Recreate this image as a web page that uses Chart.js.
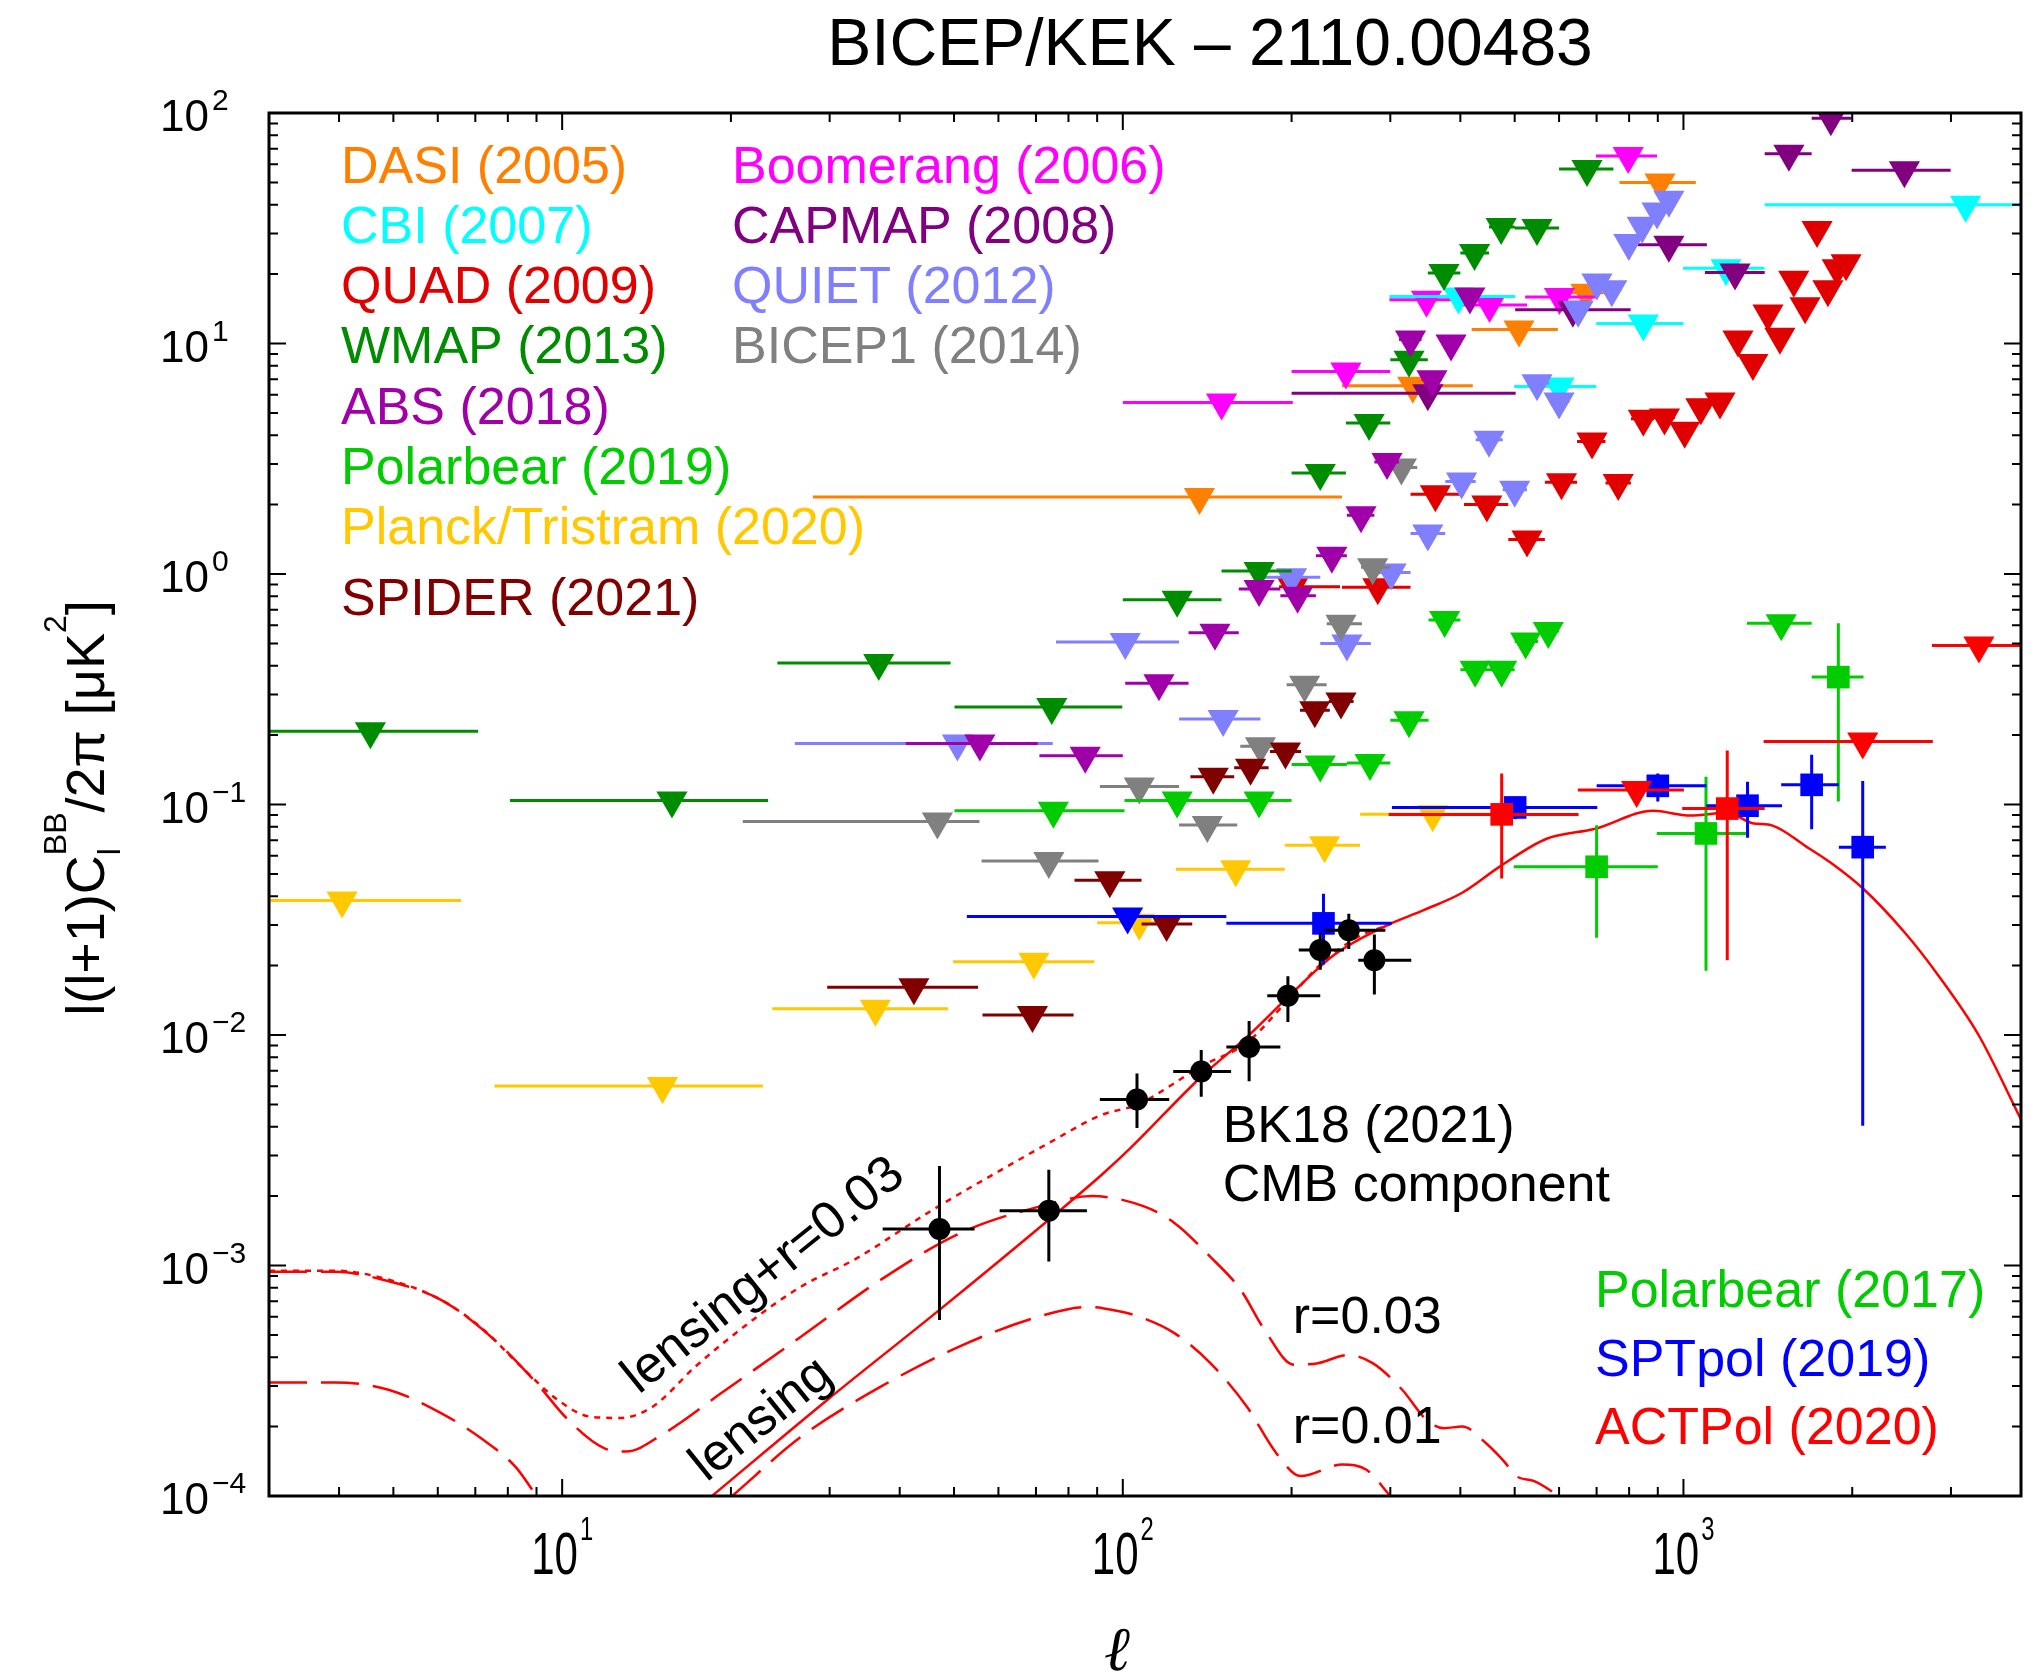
<!DOCTYPE html>
<html>
<head>
<meta charset="utf-8">
<title>BB power spectrum</title>
<script src="https://cdn.jsdelivr.net/npm/chart.js@4.4.1/dist/chart.umd.min.js"></script>
<style>
  html, body { margin: 0; padding: 0; background: #ffffff; }
  canvas { display: block; }
</style>
</head>
<body>
<canvas id="bbChart" width="2040" height="1677" style="width:2040px;height:1677px"></canvas>
<script>
// axis ranges
const ellRange = [3, 4000];
const powerRange = [1e-4, 100];
const xDecades = [1, 2, 3];
const yDecades = [-4, -3, -2, -1, 0, 1, 2];

// upper limits: [l min, l, l max, 95% limit]
const dasi = [[28, 137, 246, 2.16], [246, 329, 421, 6.55], [419, 509, 597, 11.5], [597, 670, 755, 16.6], [769, 908, 1052, 50.0]];
const boomerang = [[100, 150, 201, 5.55], [200, 250, 300, 7.56], [299, 348, 391, 15.5], [391, 451, 526, 14.7], [522, 601, 699, 15.9], [698, 797, 897, 65.1]];
const cbi = [[299, 397, 501, 16.0], [499, 600, 699, 6.50], [699, 848, 1000, 12.2], [998, 1191, 1395, 21.2], [1396, 3186, 7000, 40.0]];
const capmap = [[200, 350, 502, 6.09], [501, 635, 805, 14.0], [829, 942, 1101, 26.8], [1092, 1236, 1396, 20.3], [1396, 1542, 1693, 66.5], [1693, 1832, 1995, 95], [1995, 2478, 2996, 56.4]];
const quad = [[190, 201, 244, 0.88], [246, 285, 326, 0.876], [326, 361, 406, 2.22], [406, 446, 487, 2.0], [487, 526, 566, 1.41],
  [566, 606, 646, 2.50], [646, 687, 726, 3.76], [726, 765, 806, 2.48], [806, 848, 886, 4.72], [886, 925, 966, 4.78],
  [966, 1005, 1040, 4.18], [1040, 1074, 1118, 5.29], [1118, 1162, 1206, 5.60], [1206, 1251, 1290, 10.4], [1290, 1330, 1372, 8.22],
  [1372, 1415, 1450, 13.5], [1450, 1486, 1530, 10.7], [1530, 1573, 1610, 18.9], [1610, 1648, 1690, 14.5], [1690, 1731, 1770, 31.1],
  [1770, 1810, 1845, 17.2], [1845, 1880, 1915, 21.2], [1915, 1950, 1990, 22.3]];
const quiet = [[26, 50.7, 75, 0.184], [76, 101, 126, 0.507], [126, 151, 176, 0.235], [178, 200, 225, 0.969], [225, 251, 277, 0.50],
  [276, 301, 326, 1.015], [326, 350, 376, 1.50], [376, 402, 426, 2.52], [426, 450, 476, 3.82], [476, 500, 526, 2.32],
  [526, 548, 576, 6.73], [576, 600, 626, 5.60], [626, 649, 676, 14.0], [676, 701, 726, 18.4], [726, 745, 776, 17.2],
  [776, 799, 826, 27.3], [826, 844, 876, 32.4], [876, 897, 926, 37.4], [926, 942, 976, 42.0]];
const wmap = [[2, 4.55, 7.08, 0.208], [8.07, 15.7, 23.3, 0.104], [24.2, 36.7, 49.3, 0.411], [50.1, 74.7, 99.8, 0.265],
  [100, 125, 150, 0.774], [150, 175, 200, 1.03], [200, 225, 250, 2.74], [250, 275, 300, 4.52], [300, 324, 350, 8.50],
  [350, 374, 400, 20.2], [400, 424, 450, 24.7], [450, 473, 500, 32.0], [500, 548, 600, 31.7], [600, 673, 750, 57.1]];
const bicep1 = [[21, 46.7, 55.5, 0.0843], [56, 73.8, 90.5, 0.0568], [91, 107, 126, 0.1197], [126, 141.5, 160, 0.0815],
  [162, 176, 190, 0.179], [196, 211, 231, 0.331], [231, 245, 267, 0.609], [266, 279, 300, 1.07], [301, 314, 335, 2.90]];
const abs = [[41, 55.6, 70.5, 0.184], [71, 85.7, 100, 0.1626], [101, 116, 131, 0.336], [131, 146, 161, 0.556], [161, 175, 191, 0.86],
  [191, 205, 221, 0.805], [221, 236, 251, 1.20], [251, 266, 281, 1.80], [281, 296, 311, 3.06], [311, 326, 341, 10.4],
  [341, 356, 371, 7.0], [371, 385, 401, 10.0], [401, 416, 431, 16.0]];
const polarbear19 = [[50.1, 75.2, 100.7, 0.094], [100.7, 125, 151, 0.1042], [151, 175, 200, 0.1042], [200, 225, 251, 0.149],
  [251, 276, 300, 0.1514], [300, 324, 351, 0.232], [351, 375, 400, 0.632], [400, 425, 450, 0.384], [450, 474, 500, 0.384],
  [500, 523, 550, 0.51], [550, 574, 600, 0.566]];
const planck = [[2, 4.05, 6.6, 0.0383], [7.57, 15.1, 22.8, 0.00601], [23.7, 36.2, 48.8, 0.0130], [49.8, 69.4, 89, 0.0208],
  [90, 107, 124, 0.0307], [124.4, 159, 194.5, 0.0524], [194.5, 229, 265, 0.0665], [265, 357, 475, 0.0907]];
const spider = [[29.7, 42.4, 55.2, 0.0161], [56.2, 69, 81.7, 0.0122], [82, 94.8, 108, 0.0469], [108, 119.7, 133, 0.0303],
  [132, 145, 158, 0.1318], [158, 169, 182, 0.1445], [183, 195, 208, 0.170], [207, 220, 234, 0.2565], [233, 245, 258, 0.280]];
const polarbear17Limits = [[1298, 1494, 1693, 0.611]];
const sptpolLimits = [[52.7, 102, 153, 0.0327]];
const actpolLimits = [[648, 825, 1002, 0.1156], [1390, 2088, 2785, 0.1875], [2775, 3365, 4000, 0.489]];

// detections: [l min, l, l max, band power, lower, upper]
const polarbear17 = [[498, 700, 900, 0.0537, 0.0264, 0.0813], [896, 1097, 1301, 0.0749, 0.0190, 0.1318], [1693, 1889, 2095, 0.357, 0.103, 0.611]];
const sptpol = [[153, 228, 302, 0.0305, 0.0202, 0.0410], [302, 501, 702, 0.0971, 0.0863, 0.1065], [700, 900, 1099, 0.1205, 0.103, 0.1364],
  [1099, 1301, 1499, 0.0988, 0.0718, 0.1256], [1494, 1693, 1893, 0.1217, 0.078, 0.1644], [1893, 2088, 2296, 0.0653, 0.00404, 0.1266]];
const actpol = [[298, 474, 650, 0.0906, 0.0478, 0.1364], [995, 1197, 1396, 0.096, 0.0211, 0.1714]];
const bk18 = [[37.3, 47.1, 54.4, 0.00144, 0.00058, 0.0027], [60.3, 73.8, 86.3, 0.00173, 0.00104, 0.0026],
  [91, 106, 121, 0.00525, 0.00395, 0.0068], [123, 138, 156, 0.00694, 0.0054, 0.0086], [153, 168, 191, 0.00887, 0.0063, 0.0115],
  [181, 197, 225, 0.0148, 0.0114, 0.018], [206, 225, 248, 0.0234, 0.0192, 0.0277], [229, 253, 294, 0.0285, 0.0236, 0.0336],
  [263, 281, 327, 0.0211, 0.0150, 0.0273]];

// model spectra
const lensEll = [18.5, 29.7, 47.1, 73.8, 91.6, 102.5, 138, 168, 201, 239, 294, 344, 403, 471, 570, 697, 883, 1028, 1197, 1327, 1442, 1651, 1829, 2095, 2479, 2840, 3360, 4000];
const lensVal = [1.0e-4, 2.61e-4, 6.42e-4, 1.58e-3, 2.47e-3, 3.18e-3, 6.59e-3, 0.0100, 0.0153, 0.0224, 0.0297, 0.0348, 0.0414, 0.0539, 0.071, 0.0785, 0.094, 0.0895, 0.092, 0.083, 0.081, 0.066, 0.056, 0.043, 0.0279, 0.0183, 0.0100, 0.0043];
const lensR03Ell = [3, 3.94, 4.79, 6.08, 7.24, 8.44, 9.82, 11.2, 12.7, 14.5, 17.3, 21.5, 26.7, 33.2, 45.9, 63.7, 73.8, 91.6, 106, 138, 167, 197, 225, 263, 300];
const lensR03Val = [9.5e-4, 9.5e-4, 8.81e-4, 7.10e-4, 5.26e-4, 3.65e-4, 2.61e-4, 2.21e-4, 2.18e-4, 2.44e-4, 3.65e-4, 5.62e-4, 8.11e-4, 1.06e-3, 1.75e-3, 2.78e-3, 3.4e-3, 4.5e-3, 4.98e-3, 7.31e-3, 9.33e-3, 0.0142, 0.0202, 0.0267, 0.0302];
const r03Ell = [3, 3.94, 4.79, 6.08, 7.57, 9.0, 10.25, 11.9, 13.0, 15.2, 19.2, 26.7, 37.0, 51.2, 70.9, 88, 109.4, 123.6, 143.3, 162.2, 179, 202, 223, 252, 279, 315, 348, 374, 403, 445, 479, 503, 542, 600];
const r03Val = [9.4e-4, 9.4e-4, 8.67e-4, 7.10e-4, 4.76e-4, 3.09e-4, 2.14e-4, 1.61e-4, 1.56e-4, 1.87e-4, 2.79e-4, 4.92e-4, 8.67e-4, 1.38e-3, 1.80e-3, 2.0e-3, 1.80e-3, 1.53e-3, 1.09e-3, 7.85e-4, 5.26e-4, 3.71e-4, 3.77e-4, 4.09e-4, 3.77e-4, 2.89e-4, 2.14e-4, 1.97e-4, 2.0e-4, 1.69e-4, 1.41e-4, 1.22e-4, 1.16e-4, 1.0e-4];
const r01Ell = [3, 3.94, 4.90, 6.08, 7.24, 8.25, 9.0, 14, 20.1, 26.7, 37.0, 51.2, 70.9, 86.3, 92.1, 106.7, 123.6, 143.3, 166.5, 188, 207.6, 246.6, 272, 300];
const r01Val = [3.11e-4, 3.11e-4, 2.89e-4, 2.29e-4, 1.75e-4, 1.34e-4, 1.0e-4, null, 1.0e-4, 1.81e-4, 2.98e-4, 4.46e-4, 6.01e-4, 6.61e-4, 6.53e-4, 6.01e-4, 5.09e-4, 3.77e-4, 2.44e-4, 1.53e-4, 1.22e-4, 1.37e-4, 1.30e-4, 1.0e-4];

const palette = {
  dasi: '#ff8000', boomerang: '#ff00ff', cbi: '#00ffff', capmap: '#800080',
  quad: '#e00000', quiet: '#8080ff', wmap: '#008c00', bicep1: '#808080',
  abs: '#a000a8', polarbear: '#00cc00', planck: '#ffc800', spider: '#800000',
  sptpol: '#0000ff', actpol: '#ff0000', bk18: '#000000', model: '#ff0000'
};

const FONT = '"Liberation Sans", Arial, Helvetica, sans-serif';

function limitSet(label, rows, color) {
  return {
    label,
    data: rows.map(r => ({ x: r[1], y: r[3], xMin: r[0], xMax: r[2] })),
    errorBars: true,
    borderColor: color,
    pointStyle: 'triangle',
    pointRotation: 180,
    pointRadius: 18,
    pointBackgroundColor: color,
    pointBorderWidth: 0
  };
}

function bandSet(label, rows, color, style, radius) {
  return {
    label,
    data: rows.map(r => ({ x: r[1], y: r[3], xMin: r[0], xMax: r[2], yMin: r[4], yMax: r[5] })),
    errorBars: true,
    borderColor: color,
    pointStyle: style,
    pointRadius: radius,
    pointBackgroundColor: color,
    pointBorderWidth: 0
  };
}

function curveSet(label, ell, vals, dash) {
  return {
    label,
    data: ell.map((l, i) => ({ x: l, y: vals[i] })),
    showLine: true,
    pointRadius: 0,
    borderColor: palette.model,
    borderWidth: 2.5,
    borderDash: dash,
    cubicInterpolationMode: 'monotone'
  };
}

// first entry ends up at the bottom of the stack
const datasets = [
  curveSet('r=0.01', r01Ell, r01Val, [38, 14]),
  curveSet('r=0.03', r03Ell, r03Val, [38, 14]),
  curveSet('lensing+r=0.03', lensR03Ell, lensR03Val, [6, 6]),
  curveSet('lensing', lensEll, lensVal, []),
  limitSet('DASI', dasi, palette.dasi),
  limitSet('Boomerang', boomerang, palette.boomerang),
  limitSet('CBI', cbi, palette.cbi),
  limitSet('CAPMAP', capmap, palette.capmap),
  limitSet('QUAD', quad, palette.quad),
  limitSet('QUIET', quiet, palette.quiet),
  limitSet('WMAP', wmap, palette.wmap),
  limitSet('BICEP1', bicep1, palette.bicep1),
  limitSet('ABS', abs, palette.abs),
  limitSet('Polarbear 2019', polarbear19, palette.polarbear),
  limitSet('Planck/Tristram', planck, palette.planck),
  limitSet('SPIDER', spider, palette.spider),
  limitSet('Polarbear 2017 limit', polarbear17Limits, palette.polarbear),
  bandSet('Polarbear 2017', polarbear17, palette.polarbear, 'rect', 16),
  limitSet('SPTpol limit', sptpolLimits, palette.sptpol),
  bandSet('SPTpol', sptpol, palette.sptpol, 'rect', 16),
  limitSet('ACTPol limit', actpolLimits, palette.actpol),
  bandSet('ACTPol', actpol, palette.actpol, 'rect', 16),
  bandSet('BK18', bk18, palette.bk18, 'circle', 11)
];
datasets.forEach((d, i) => { d.order = datasets.length - i; d.clip = 0; });

// bin widths and error bars, drawn just before each dataset's markers
const errorBars = {
  id: 'errorBars',
  beforeDatasetDraw(chart, args) {
    const ds = chart.data.datasets[args.index];
    if (!ds.errorBars) return;
    const { ctx, chartArea: a, scales: { x, y } } = chart;
    ctx.save();
    ctx.beginPath();
    ctx.rect(a.left, a.top, a.right - a.left, a.bottom - a.top);
    ctx.clip();
    ctx.strokeStyle = ds.borderColor;
    ctx.lineWidth = 3;
    ctx.beginPath();
    ds.data.forEach(p => {
      const px = x.getPixelForValue(p.x);
      const py = y.getPixelForValue(p.y);
      ctx.moveTo(x.getPixelForValue(p.xMin), py);
      ctx.lineTo(x.getPixelForValue(p.xMax), py);
      if (p.yMin !== undefined) {
        ctx.moveTo(px, y.getPixelForValue(p.yMin));
        ctx.lineTo(px, y.getPixelForValue(p.yMax));
      }
    });
    ctx.stroke();
    ctx.restore();
  }
};

const legendRows = [
  ['DASI (2005)', 'dasi', 72, 183], ['Boomerang (2006)', 'boomerang', 463, 183],
  ['CBI (2007)', 'cbi', 72, 243], ['CAPMAP (2008)', 'capmap', 463, 243],
  ['QUAD (2009)', 'quad', 72, 303], ['QUIET (2012)', 'quiet', 463, 303],
  ['WMAP (2013)', 'wmap', 72, 363], ['BICEP1 (2014)', 'bicep1', 463, 363],
  ['ABS (2018)', 'abs', 72, 424], ['Polarbear (2019)', 'polarbear', 72, 484],
  ['Planck/Tristram (2020)', 'planck', 72, 544], ['SPIDER (2021)', 'spider', 72, 615],
  ['Polarbear (2017)', 'polarbear', 1326, 1307], ['SPTpol (2019)', 'sptpol', 1326, 1376],
  ['ACTPol (2020)', 'actpol', 1326, 1444]
];

// text placed at (l, value) on the plot
const notes = [
  { text: 'BK18 (2021)', l: 150.7, v: 3.42e-3 },
  { text: 'CMB component', l: 150.7, v: 1.90e-3 },
  { text: 'r=0.03', l: 201, v: 5.1e-4 },
  { text: 'r=0.01', l: 201, v: 1.69e-4 },
  { text: 'lensing+r=0.03', l: 22.9, v: 9.0e-4, angle: -38.8 },
  { text: 'lensing', l: 22.7, v: 2.14e-4, angle: -38.8 }
];

function drawYTitle(ctx, cx, cy) {
  const big = '54px ' + FONT, small = '32px ' + FONT;
  const runs = [
    { t: 'l(l+1)C', f: big, dy: 0 },
    { t: 'BB', f: small, dy: -38, sub: 'l', subDy: 16 },
    { t: '/2\u03c0 [\u03bcK', f: big, dy: 0 },
    { t: '2', f: small, dy: -38 },
    { t: ']', f: big, dy: 0 }
  ];
  ctx.save();
  ctx.translate(cx, cy);
  ctx.rotate(-Math.PI / 2);
  ctx.textAlign = 'left';
  ctx.textBaseline = 'alphabetic';
  let total = 0;
  runs.forEach(r => { ctx.font = r.f; r.w = ctx.measureText(r.t).width; total += r.w; });
  let pos = -total / 2;
  runs.forEach(r => {
    ctx.font = r.f;
    ctx.fillText(r.t, pos, r.dy);
    if (r.sub) ctx.fillText(r.sub, pos, r.subDy);
    pos += r.w;
  });
  ctx.restore();
}

const decorations = {
  id: 'decorations',
  beforeDraw(chart) {
    const ctx = chart.ctx;
    ctx.save();
    ctx.fillStyle = '#ffffff';
    ctx.fillRect(0, 0, chart.width, chart.height);
    ctx.restore();
  },
  afterDraw(chart) {
    const { ctx, chartArea: a, scales: { x, y } } = chart;
    ctx.save();
    ctx.fillStyle = '#000';
    ctx.strokeStyle = '#000';

    // inward ticks on all four sides
    ctx.lineWidth = 2;
    ctx.beginPath();
    for (let d = 0; d <= 3; d++) {
      for (let m = 1; m <= 9; m++) {
        const v = m * Math.pow(10, d);
        if (v < ellRange[0] - 1e-9 || v > ellRange[1] + 1e-9) continue;
        const px = x.getPixelForValue(v);
        const len = m === 1 ? 17 : 9;
        ctx.moveTo(px, a.bottom); ctx.lineTo(px, a.bottom - len);
        ctx.moveTo(px, a.top); ctx.lineTo(px, a.top + len);
      }
    }
    for (let d = -4; d <= 2; d++) {
      for (let m = 1; m <= 9; m++) {
        const v = m * Math.pow(10, d);
        if (v > powerRange[1] * 1.0001) continue;
        const py = y.getPixelForValue(v);
        const len = m === 1 ? 17 : 9;
        ctx.moveTo(a.left, py); ctx.lineTo(a.left + len, py);
        ctx.moveTo(a.right, py); ctx.lineTo(a.right - len, py);
      }
    }
    ctx.stroke();
    ctx.lineWidth = 3;
    ctx.strokeRect(a.left, a.top, a.right - a.left, a.bottom - a.top);

    // x tick labels, narrow face
    const squeeze = 0.7;
    ctx.textAlign = 'left';
    ctx.textBaseline = 'alphabetic';
    xDecades.forEach(e => {
      const cx = x.getPixelForValue(Math.pow(10, e));
      ctx.font = '60px ' + FONT;
      const wBase = ctx.measureText('10').width * squeeze;
      ctx.font = '34px ' + FONT;
      const wExp = ctx.measureText(String(e)).width * squeeze;
      const left = cx - (wBase + 2 + wExp) / 2;
      ctx.save();
      ctx.translate(left, a.bottom + 78);
      ctx.scale(squeeze, 1);
      ctx.font = '60px ' + FONT;
      ctx.fillText('10', 0, 0);
      ctx.font = '34px ' + FONT;
      ctx.fillText(String(e), (wBase + 2) / squeeze, -34);
      ctx.restore();
    });

    // y tick labels
    yDecades.forEach(e => {
      const py = y.getPixelForValue(Math.pow(10, e));
      ctx.font = '44px ' + FONT;
      ctx.fillText('10', a.left - 109, py + 18);
      const w = ctx.measureText('10').width;
      ctx.font = '30px ' + FONT;
      ctx.fillText(e < 0 ? '\u2212' + (-e) : String(e), a.left - 109 + w + 3, py - 3);
    });

    // axis titles
    drawYTitle(ctx, 104, 808);
    ctx.font = 'italic 62px "DejaVu Serif", serif';
    ctx.textAlign = 'center';
    ctx.fillText('\u2113', 1117, 1670);

    // title
    ctx.font = '66px ' + FONT;
    ctx.fillText('BICEP/KEK \u2013 2110.00483', 1210, 65);

    // legend entries
    ctx.textAlign = 'left';
    ctx.font = '52px ' + FONT;
    legendRows.forEach(([text, key, dx, base]) => {
      ctx.fillStyle = palette[key];
      ctx.fillText(text, a.left + dx, base);
    });

    // labels on the plot
    ctx.fillStyle = '#000';
    notes.forEach(n => {
      const px = x.getPixelForValue(n.l);
      const py = y.getPixelForValue(n.v);
      ctx.save();
      ctx.translate(px, py);
      if (n.angle !== undefined) {
        ctx.rotate(n.angle * Math.PI / 180);
        ctx.textAlign = 'center';
        ctx.textBaseline = 'middle';
      } else {
        ctx.textAlign = 'left';
        ctx.textBaseline = 'alphabetic';
      }
      ctx.font = '52px ' + FONT;
      ctx.fillText(n.text, 0, 0);
      ctx.restore();
    });
    ctx.restore();
  }
};

new Chart(document.getElementById('bbChart'), {
  type: 'scatter',
  data: { datasets },
  options: {
    responsive: false,
    devicePixelRatio: 1,
    animation: false,
    events: [],
    layout: { padding: { left: 269, right: 19, top: 113, bottom: 181 } },
    plugins: {
      legend: { display: false },
      tooltip: { enabled: false },
      title: { display: false }
    },
    scales: {
      x: { type: 'logarithmic', min: ellRange[0], max: ellRange[1], display: false },
      y: { type: 'logarithmic', min: powerRange[0], max: powerRange[1], display: false }
    }
  },
  plugins: [errorBars, decorations]
});
</script>
</body>
</html>
